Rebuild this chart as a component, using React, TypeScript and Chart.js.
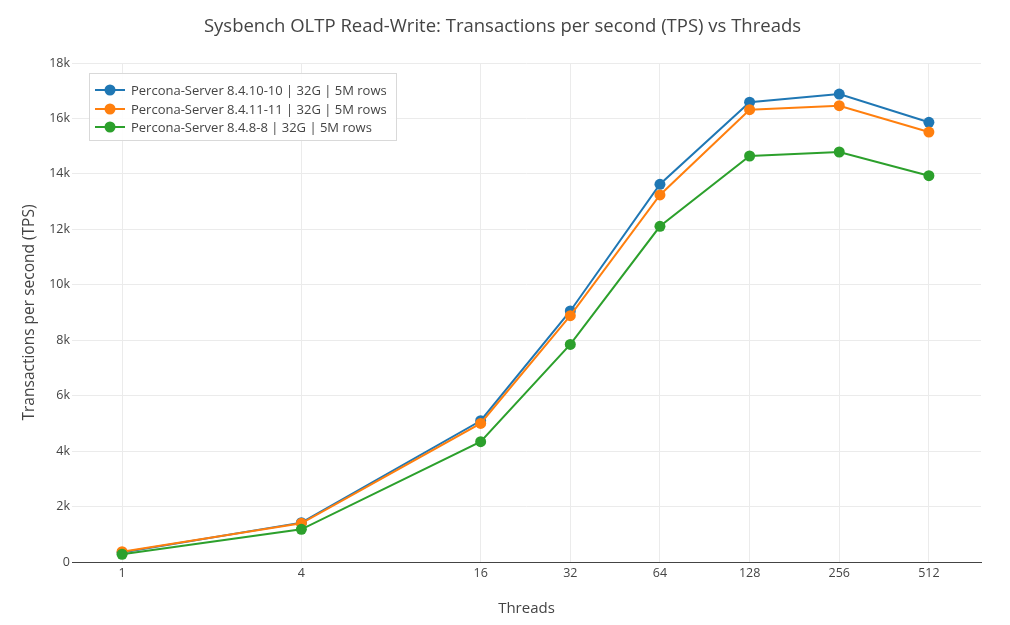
import { useEffect, useRef } from 'react'
import { Chart, registerables } from 'chart.js'

Chart.register(...registerables)

const threads = [1, 4, 16, 32, 64, 128, 256, 512]
const seriesNames = [
  'Percona-Server 8.4.10-10 | 32G | 5M rows',
  'Percona-Server 8.4.11-11 | 32G | 5M rows',
  'Percona-Server 8.4.8-8 | 32G | 5M rows',
]
const colors = ['#1f77b4', '#ff7f0e', '#2ca02c']
const tps1010 = [340, 1420, 5095, 9055, 13625, 16585, 16880, 15860]
const tps1111 = [372, 1395, 5000, 8885, 13240, 16315, 16460, 15510]
const tps88 = [280, 1180, 4340, 7850, 12110, 14645, 14790, 13935]
const seriesValues = [tps1010, tps1111, tps88]
const yTicks = [0, 2000, 4000, 6000, 8000, 10000, 12000, 14000, 16000, 18000]
const yTickLabels = ['0', '2k', '4k', '6k', '8k', '10k', '12k', '14k', '16k', '18k']

const FONT = '"Open Sans", verdana, arial, sans-serif'
const INK = '#444'

export default function App() {
  const canvasRef = useRef<HTMLCanvasElement>(null)

  useEffect(() => {
    document.body.style.margin = '0'
    if (!canvasRef.current) return
    Chart.defaults.font.family = FONT
    Chart.defaults.color = INK

    const chart = new Chart(canvasRef.current, {
      type: 'line',
      data: {
        datasets: seriesValues.map((vals, i) => ({
          label: seriesNames[i],
          data: vals.map((y, j) => ({ x: threads[j], y })),
          borderColor: colors[i],
          backgroundColor: colors[i],
          pointBackgroundColor: colors[i],
          borderWidth: 2,
          pointRadius: 5.5,
          pointBorderWidth: 0,
          tension: 0,
          order: 3 - i,
        })),
      },
      options: {
        animation: false,
        responsive: false,
        // left/right padding keep the title centred on the page like the original
        layout: { padding: { left: 24, right: 29, top: 0, bottom: 0 } },
        plugins: {
          legend: { display: false },
          tooltip: { enabled: false },
          title: {
            display: true,
            text: 'Sysbench OLTP Read-Write: Transactions per second (TPS) vs Threads',
            color: INK,
            font: { size: 18.5, weight: 'normal', family: FONT },
            padding: { top: 15.9, bottom: 24.9 },
          },
        },
        scales: {
          x: {
            type: 'logarithmic',
            min: 0.679,
            max: 766,
            afterBuildTicks: (scale) => {
              scale.ticks = threads.map((v) => ({ value: v }))
            },
            afterFit: (scale) => {
              scale.height = 63
            },
            ticks: {
              color: INK,
              font: { size: 12.5 },
              padding: 4,
              maxRotation: 0,
              autoSkip: false,
              callback: (v) => String(v),
            },
            grid: { color: '#ebebeb', drawTicks: false },
            border: { display: true, color: INK, width: 1 },
            title: {
              display: true,
              text: 'Threads',
              color: INK,
              font: { size: 15, family: FONT },
              padding: { top: 0, bottom: 7 },
            },
          },
          y: {
            min: 0,
            max: 18000,
            afterBuildTicks: (scale) => {
              scale.ticks = yTicks.map((v) => ({ value: v }))
            },
            afterFit: (scale) => {
              scale.width = 48
            },
            ticks: {
              color: INK,
              font: { size: 12.5 },
              padding: 2,
              callback: (v) => yTickLabels[yTicks.indexOf(Number(v))] ?? '',
            },
            grid: { color: '#ebebeb', drawTicks: false },
            border: { display: false },
            title: {
              display: true,
              text: 'Transactions per second (TPS)',
              color: INK,
              font: { size: 15.5, family: FONT },
              padding: { top: -3.5, bottom: 0 },
            },
          },
        },
      },
    })

    return () => chart.destroy()
  }, [])

  return (
    <div style={{ position: 'relative', width: 1010, height: 625, background: '#fff' }}>
      <canvas ref={canvasRef} width={1010} height={625} style={{ display: 'block' }} />
      <div
        style={{
          position: 'absolute',
          left: 89,
          top: 73,
          width: 308,
          height: 68,
          border: '1px solid #d9d9d9',
          background: 'rgba(255,255,255,0.9)',
          fontFamily: FONT,
          fontSize: 13,
          color: INK,
          boxSizing: 'border-box',
          paddingTop: 6.5,
        }}
      >
        {seriesNames.map((name, i) => (
          <div key={name} style={{ display: 'flex', alignItems: 'center', height: 18.7, whiteSpace: 'nowrap' }}>
            <svg width={30} height={12} style={{ marginLeft: 5, marginRight: 6, flex: 'none' }}>
              <line x1={0} y1={6} x2={30} y2={6} stroke={colors[i]} strokeWidth={2} />
              <circle cx={15} cy={6} r={5.5} fill={colors[i]} />
            </svg>
            <span>{name}</span>
          </div>
        ))}
      </div>
    </div>
  )
}
